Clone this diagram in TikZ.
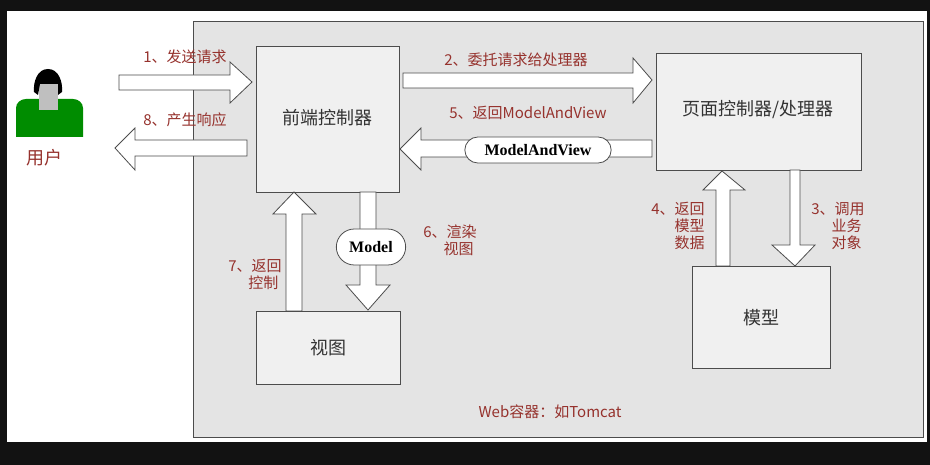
\documentclass[tikz,border=0pt]{standalone}
\usepackage{fontspec}
\newfontfamily\cjk{Noto Sans CJK SC}
\setmainfont{Liberation Serif}
\usetikzlibrary{shapes.misc}
\definecolor{lbl}{RGB}{150,50,45}
\definecolor{pane}{RGB}{228,228,228}
\definecolor{boxfill}{RGB}{240,240,240}
\tikzset{
  box/.style={draw=black!70,fill=boxfill,thick},
  lbl/.style={text=lbl,font=\cjk\fontsize{15}{17}\selectfont,align=left},
  big/.style={font=\cjk\fontsize{18}{20}\selectfont,text=black!80},
  fat/.style={draw=black!70,fill=white,thick},
  pill/.style={draw=black!70,fill=white,thick,rounded rectangle,font=\bfseries\fontsize{16}{18}\selectfont}
}
\begin{document}
\begin{tikzpicture}[x=1pt,y=-1pt]
\useasboundingbox (0,0) rectangle (930,465);
\fill[black!93] (0,0) rectangle (930,465);
\fill[white] (7,11) rectangle (927,442);
% the container
\draw[box,fill=pane] (193,21) rectangle (923,437);
\node[lbl] (web) at (550,412) {Web容器：如Tomcat};
% the boxes
\draw[box] (256,46) rectangle (399,192);
\node[big] (front) at (327,118) {前端控制器};
\draw[box] (656,53) rectangle (861,170);
\node[big] (page) at (758,110) {页面控制器/处理器};
\draw[box] (692,266) rectangle (830,368);
\node[big] (model) at (761,318) {模型};
\draw[box] (256,311) rectangle (400,384);
\node[big] (view) at (328,348) {视图};
% the user
\fill[green!55!black] (16,137) -- (16,108) to[out=90,in=180] (26,99) -- (73,99) to[out=0,in=90] (83,108) -- (83,137) -- cycle;
\fill[black!25] (39,84) rectangle (58,110);
\fill[black] (34,92) to[out=95,in=180] (48,69) to[out=0,in=85] (62,92) -- (58,95) -- (58,84) -- (40,84) -- (38,95) -- cycle;
\node[text=lbl,font=\cjk\fontsize{18}{20}\selectfont] (user) at (45,158) {用户};
% the arrows
\draw[fat] (119,75) -- (230,75) -- (230,62) -- (252,82) -- (230,103) -- (230,90) -- (119,90) -- cycle;
\draw[fat] (247,140) -- (135,140) -- (135,128) -- (115,148) -- (135,170) -- (135,156) -- (247,156) -- cycle;
\draw[fat] (403,73) -- (633,73) -- (633,58) -- (652,80) -- (633,103) -- (633,88) -- (403,88) -- cycle;
\draw[fat] (652,140) -- (421,140) -- (421,128) -- (400,149) -- (421,170) -- (421,157) -- (652,157) -- cycle;
\draw[fat] (716,266) -- (716,190) -- (703,190) -- (722,171) -- (745,190) -- (730,190) -- (730,266) -- cycle;
\draw[fat] (790,170) -- (790,245) -- (772,245) -- (795,266) -- (815,245) -- (800,245) -- (800,170) -- cycle;
\draw[fat] (286,311) -- (286,214) -- (273,214) -- (294,192) -- (316,214) -- (302,214) -- (302,311) -- cycle;
\draw[fat] (360,192) -- (360,285) -- (346,285) -- (368,310) -- (390,285) -- (376,285) -- (376,192) -- cycle;
\node[pill,minimum width=153,minimum height=26] (mav) at (538,150) {ModelAndView};
\node[pill,minimum width=76,minimum height=36] (mdl) at (371,247) {Model};
% the labels
\node[lbl] (l1) at (185,57) {1、发送请求};
\node[lbl] (l8) at (185,120) {8、产生响应};
\node[lbl] (l2) at (516,60) {2、委托请求给处理器};
\node[lbl] (l5) at (528,113) {5、返回ModelAndView};
\node[lbl,align=right] (l4) at (678,226) {4、返回\\模型\\数据};
\node[lbl] (l3) at (838,226) {3、调用\\\ \ \ \ \ \ 业务\\\ \ \ \ \ \ 对象};
\node[lbl] (l7) at (255,274) {7、返回\\\ \ \ \ \ \ 控制};
\node[lbl] (l6) at (450,240) {6、渲染\\\ \ \ \ \ \ 视图};
\end{tikzpicture}
\end{document}
